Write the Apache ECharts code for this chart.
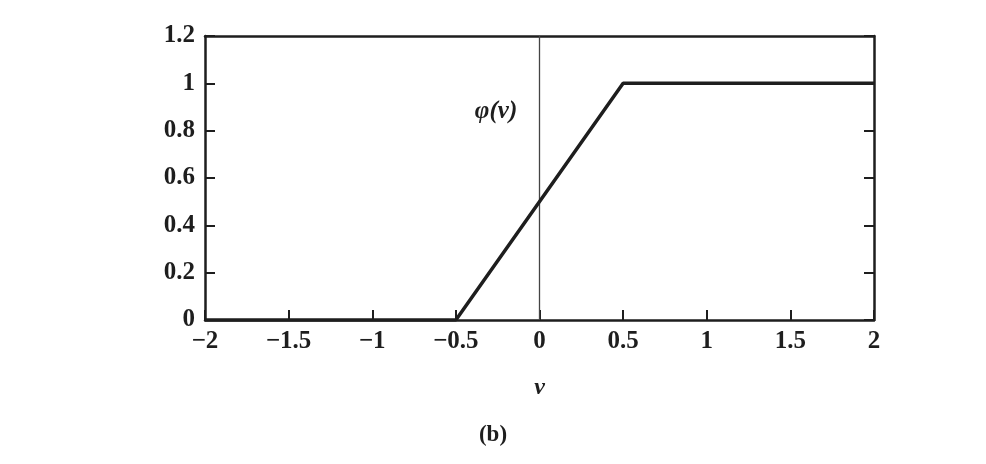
<!DOCTYPE html>
<html>
<head>
<meta charset="utf-8">
<script src="https://cdn.jsdelivr.net/npm/echarts@6/dist/echarts.min.js"></script>
<style>
  html, body { margin: 0; padding: 0; background: #fff; }
  #main { width: 986px; height: 464px; }
</style>
</head>
<body>
<div id="main"></div>
<script>
// piecewise linear activation phi(v)
const vValues = [-2, -0.5, 0.5, 2]
const phiValues = [0, 0, 1, 1]
const xTicks = [-2, -1.5, -1, -0.5, 0, 0.5, 1, 1.5, 2]
const yTicks = [0, 0.2, 0.4, 0.6, 0.8, 1, 1.2]

const ink = '#1e1e1e'
const font = 'Liberation Serif'

function fmt(v) {
  return String(v).replace('-', '\u2212')
}

const chart = echarts.init(document.getElementById('main'))

function axisStyle(ticks) {
  return {
    axisLine: { show: true, onZero: false, lineStyle: { color: ink, width: 2.5 } },
    axisTick: { show: ticks, inside: true, length: 10, lineStyle: { color: ink, width: 2 } },
    splitLine: { show: false },
  }
}

const labelStyle = {
  fontFamily: font,
  fontSize: 25,
  fontWeight: 'bold',
  color: ink,
}

chart.setOption({
  animation: false,
  grid: { left: 205, right: 112, top: 36, bottom: 144 },
  title: {
    text: '(b)',
    left: 'center',
    top: 419,
    textStyle: { fontFamily: font, fontSize: 23, fontWeight: 'bold', color: ink },
  },
  xAxis: [
    Object.assign({
      type: 'value',
      min: xTicks[0],
      max: xTicks[xTicks.length - 1],
      interval: 0.5,
      name: 'v',
      nameLocation: 'middle',
      nameGap: 56,
      nameTextStyle: { fontFamily: font, fontSize: 24, fontStyle: 'italic', fontWeight: 'bold', color: ink },
      axisLabel: Object.assign({ margin: 9, formatter: fmt }, labelStyle),
    }, axisStyle(true)),
    Object.assign({
      type: 'value',
      position: 'top',
      min: xTicks[0],
      max: xTicks[xTicks.length - 1],
      interval: 0.5,
      axisLabel: { show: false },
    }, axisStyle(false)),
  ],
  yAxis: [
    Object.assign({
      type: 'value',
      min: yTicks[0],
      max: yTicks[yTicks.length - 1],
      interval: 0.2,
      axisLabel: Object.assign({
        margin: 10,
        formatter: function (v) { return fmt(Math.round(v * 10) / 10) },
      }, labelStyle),
    }, axisStyle(true)),
    Object.assign({
      type: 'value',
      position: 'right',
      min: yTicks[0],
      max: yTicks[yTicks.length - 1],
      interval: 0.2,
      axisLabel: { show: false },
    }, axisStyle(true)),
  ],
  series: [
    {
      type: 'line',
      data: vValues.map((v, i) => [v, phiValues[i]]),
      showSymbol: false,
      symbol: 'none',
      lineStyle: { color: ink, width: 3.5 },
      z: 5,
      markLine: {
        silent: true,
        symbol: 'none',
        label: { show: false },
        lineStyle: { color: '#444', width: 1.3, type: 'solid' },
        data: [{ xAxis: 0 }],
      },
      markPoint: {
        silent: true,
        symbol: 'rect',
        symbolSize: 1,
        itemStyle: { color: 'rgba(0,0,0,0)' },
        label: {
          show: true,
          formatter: '\u03c6(v)',
          fontFamily: font,
          fontStyle: 'italic',
          fontWeight: 'bold',
          fontSize: 25,
          color: ink,
        },
        data: [{ coord: [-0.26, 0.88] }],
      },
    },
  ],
})
</script>
</body>
</html>
